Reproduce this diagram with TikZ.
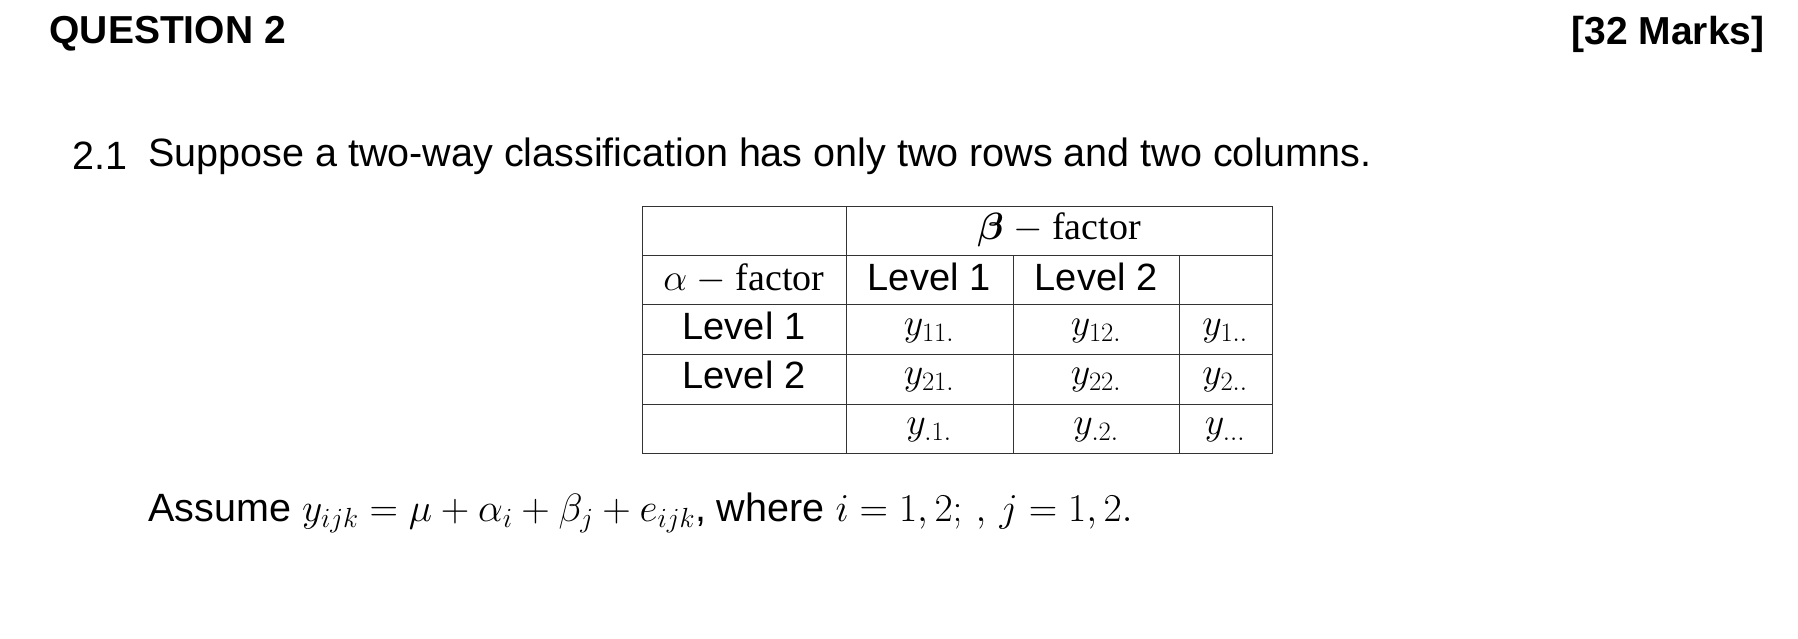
\documentclass[tikz,border=0pt]{standalone}
\usepackage{fix-cm}
\usepackage{amsmath,bm}
\usepackage{fontspec}
\setmainfont{Liberation Serif}
\setsansfont{Liberation Sans}
\usetikzlibrary{positioning}

\begin{document}
\begin{tikzpicture}[x=1pt, y=-1pt, font=\sffamily,
		grid/.style={draw=black!80, line width=1pt},
		cell/.style={anchor=center, inner sep=0pt, font=\sffamily\fontsize{38}{42}\selectfont},
		mcell/.style={anchor=center, inner sep=0pt, font=\rmfamily\fontsize{38}{42}\selectfont}]
		\useasboundingbox (0,0) rectangle (1798,638);
		\node[anchor=west, font=\sffamily\bfseries\fontsize{39}{43}\selectfont] (title) at (46,34) {QUESTION 2};
		\node[anchor=east, font=\sffamily\bfseries\fontsize{39}{43}\selectfont] (marks) at (1768,34) {[32 Marks]};
		\node[anchor=west, font=\sffamily\fontsize{39.5}{43}\selectfont] (num) at (69,156) {2.1};
		\node[anchor=west, font=\sffamily\fontsize{39.5}{43}\selectfont] (intro) at (145,156) {Suppose a two-way classification has only two rows and two columns.};
		% table lines
		\draw[grid] (642,206) rectangle (1272,453);
		\foreach \r in {255,304,354,404} \draw[grid] (642,\r) -- (1272,\r);
		\draw[grid] (846,206) -- (846,453);
		\draw[grid] (1013,255) -- (1013,453);
		\draw[grid] (1179,255) -- (1179,453);
		% table texts
		\node[mcell] (beta) at (1059,230) {$\bm{\beta}$ $-$ factor};
		\node[mcell] (alpha) at (744,279) {$\alpha$ $-$ factor};
		\node[cell] (b1) at (929,277) {Level 1};
		\node[cell] (b2) at (1096,277) {Level 2};
		\node[cell] (a1) at (744,326) {Level 1};
		\node[cell] (a2) at (744,375) {Level 2};
		\node[mcell] (y11) at (929,331) {$y_{11.}$};
		\node[mcell] (y12) at (1096,331) {$y_{12.}$};
		\node[mcell] (y1) at (1225,331) {$y_{1..}$};
		\node[mcell] (y21) at (929,380) {$y_{21.}$};
		\node[mcell] (y22) at (1096,380) {$y_{22.}$};
		\node[mcell] (y2) at (1225,380) {$y_{2..}$};
		\node[mcell] (yc1) at (929,430) {$y_{.1.}$};
		\node[mcell] (yc2) at (1096,430) {$y_{.2.}$};
		\node[mcell] (yall) at (1225,430) {$y_{...}$};
		\node[anchor=west, font=\sffamily\fontsize{39.5}{43}\selectfont] (model) at (145,513)
			{Assume $y_{ijk} = \mu + \alpha_i + \beta_j + e_{ijk}$, where $i = 1,2;\,,\, j = 1,2.$};
	\end{tikzpicture}
\end{document}
